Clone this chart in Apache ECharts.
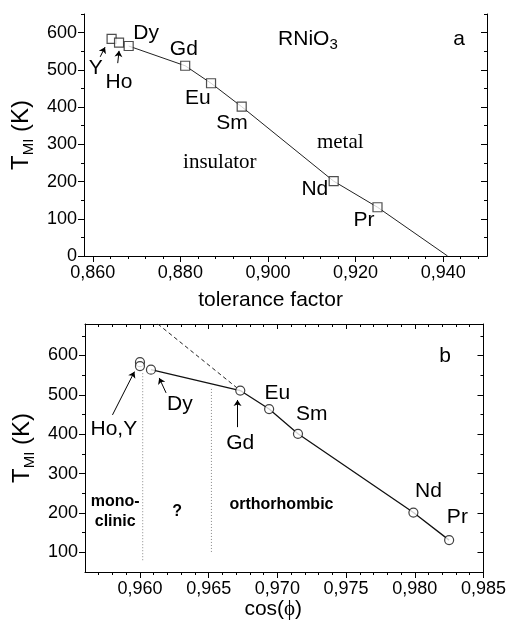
<!DOCTYPE html>
<html>
<head>
<meta charset="utf-8">
<script src="https://cdn.jsdelivr.net/npm/echarts@6/dist/echarts.min.js"></script>
<style>
  html, body { margin: 0; padding: 0; background: #fff; }
  #chart { width: 509px; height: 625px; }
</style>
</head>
<body>
<div id="chart"></div>
<script>
// RNiO3 metal-insulator transition temperatures
const elements = ['Y', 'Ho', 'Dy', 'Gd', 'Eu', 'Sm', 'Nd', 'Pr'];
const toleranceFactor = [0.8643, 0.8660, 0.8682, 0.8811, 0.8870, 0.8940, 0.9150, 0.9250];
const cosPhi = [0.9600, 0.9600, 0.9608, 0.9673, 0.9694, 0.9715, 0.9799, 0.9825];
const tMI = [583, 573, 564, 511, 464, 401, 201, 131];

// phase boundary in panel a runs on to T = 0
const boundaryEndA = [0.9410, 0];
// extrapolated orthorhombic trend in panel b (dashed, ends at Gd)
const dashStartB = [0.9613, 680];
// structural boundaries in panel b: cos(phi) and T span of the dotted lines
const structBoundaryCos = [0.9602, 0.9652];
const structBoundaryT = [[555, 79], [515, 97]];

// tick labels
const tolTickLabels = [0.86, 0.88, 0.90, 0.92, 0.94];
const cosTickLabels = [0.960, 0.965, 0.970, 0.975, 0.980, 0.985];
const tTickLabelsA = [0, 100, 200, 300, 400, 500, 600];
const tTickLabelsB = [100, 200, 300, 400, 500, 600];

const FONT = '"Liberation Sans", Arial, sans-serif';
const SERIF = '"Liberation Serif", "Times New Roman", serif';
const INK = '#000';

function range(start, stop, step) {
  const out = [];
  for (let v = start; v <= stop + step * 1e-6; v += step) out.push(+v.toFixed(6));
  return out;
}
function minorOf(all, major) {
  return all.filter(v => !major.some(m => Math.abs(m - v) < 1e-9));
}
const tolMinor = minorOf(range(0.860, 0.950, 0.004), tolTickLabels);
const cosMinor = minorOf(range(0.957, 0.985, 0.001), cosTickLabels);
const tMinorA = range(50, 650, 100);
const tMinorB = range(50, 650, 100).filter(v => v > 50);

const comma = d => v => v.toFixed(d).replace('.', ',');

function xAxesFor(grid, min, max, major, minor, fmt, name, namePad) {
  const base = { gridIndex: grid, type: 'value', min, max, splitLine: { show: false } };
  const line = { show: true, lineStyle: { color: INK, width: 1 } };
  return [
    Object.assign({}, base, {
      position: 'bottom', axisLine: line,
      axisTick: { show: true, inside: false, length: 6, customValues: major, lineStyle: { color: INK } },
      axisLabel: { show: true, customValues: major, formatter: fmt, margin: 8, color: INK, fontSize: 18, fontFamily: FONT },
      name, nameLocation: 'middle', nameGap: namePad.gap,
      nameTextStyle: { color: INK, fontSize: 21, fontFamily: FONT, padding: namePad.padding, rich: namePad.rich }
    }),
    Object.assign({}, base, {
      position: 'bottom', axisLine: { show: false },
      axisTick: { show: true, inside: false, length: 3, customValues: minor, lineStyle: { color: INK } },
      axisLabel: { show: false }
    }),
    Object.assign({}, base, {
      position: 'top', axisLine: line,
      axisTick: { show: true, inside: true, length: 5, customValues: major, lineStyle: { color: INK } },
      axisLabel: { show: false }
    }),
    Object.assign({}, base, {
      position: 'top', axisLine: { show: false },
      axisTick: { show: true, inside: true, length: 3, customValues: minor, lineStyle: { color: INK } },
      axisLabel: { show: false }
    })
  ];
}

function yAxesFor(grid, min, max, major, minor) {
  const base = { gridIndex: grid, type: 'value', min, max, splitLine: { show: false } };
  const line = { show: true, lineStyle: { color: INK, width: 1 } };
  return [
    Object.assign({}, base, {
      position: 'left', axisLine: line,
      axisTick: { show: true, inside: false, length: 6, customValues: major, lineStyle: { color: INK } },
      axisLabel: { show: true, customValues: major, margin: 7, color: INK, fontSize: 18, fontFamily: FONT },
      name: '{t|T}{s|MI}{t| (K)}', nameLocation: 'middle', nameGap: 48, nameRotate: 90,
      nameTextStyle: {
        color: INK, fontFamily: FONT,
        rich: {
          t: { fontSize: 24, fontFamily: FONT, color: INK },
          s: { fontSize: 15, fontFamily: FONT, color: INK, padding: [14, 0, 0, 0] }
        }
      }
    }),
    Object.assign({}, base, {
      position: 'left', axisLine: { show: false },
      axisTick: { show: true, inside: false, length: 3, customValues: minor, lineStyle: { color: INK } },
      axisLabel: { show: false }
    }),
    Object.assign({}, base, {
      position: 'right', axisLine: line,
      axisTick: { show: true, inside: true, length: 6, customValues: major, lineStyle: { color: INK } },
      axisLabel: { show: false }
    }),
    Object.assign({}, base, {
      position: 'right', axisLine: { show: false },
      axisTick: { show: true, inside: true, length: 3, customValues: minor, lineStyle: { color: INK } },
      axisLabel: { show: false }
    })
  ];
}

// text annotations placed in data coordinates
function textSeries(xi, yi, items) {
  return {
    type: 'scatter', xAxisIndex: xi, yAxisIndex: yi, silent: true, z: 5,
    symbolSize: 1, itemStyle: { color: '#fff', opacity: 0 },
    data: items.map(it => ({
      value: [it.x, it.y],
      label: Object.assign({
        show: true, position: 'inside', formatter: it.text, align: it.align || 'center',
        verticalAlign: 'middle', color: INK, opacity: 1, textBorderWidth: 0, textShadowBlur: 0,
        fontSize: 21, fontFamily: FONT
      }, it.style || {})
    }))
  };
}

function arrowSeries(xi, yi, segs) {
  return {
    type: 'lines', coordinateSystem: 'cartesian2d', xAxisIndex: xi, yAxisIndex: yi, silent: true,
    symbol: ['none', 'arrow'], symbolSize: 6,
    lineStyle: { color: INK, width: 1, opacity: 1 },
    data: segs.map(s => ({ coords: s }))
  };
}

const pairsA = toleranceFactor.map((x, i) => [x, tMI[i]]);
const pairsB = cosPhi.map((x, i) => [x, tMI[i]]);
// the connecting line starts at Dy (index 2)
const lineA = pairsA.slice(2).concat([boundaryEndA]);
const lineB = pairsB.slice(2);

const subRich = {
  n: { fontSize: 21, fontFamily: FONT, color: INK },
  s: { fontSize: 15, fontFamily: FONT, color: INK, padding: [12, 0, 0, 0] }
};
const boldStyle = { fontSize: 16, fontWeight: 'bold', fontFamily: FONT };

const option = {
  backgroundColor: '#fff',
  animation: false,
  grid: [
    { left: 84, top: 14, width: 403, height: 242 },
    { left: 85, top: 324, width: 400, height: 248 }
  ],
  xAxis: [].concat(
    xAxesFor(0, 0.858, 0.950, tolTickLabels, tolMinor, comma(3), 'tolerance factor',
      { gap: 34, padding: [0, 30, 0, 0] }),
    xAxesFor(1, 0.956, 0.985, cosTickLabels, cosMinor, comma(3), 'cos({p|ϕ})',
      { gap: 27, padding: [0, 22, 0, 0], rich: { p: { fontSize: 21, fontFamily: SERIF, color: INK } } })
  ),
  yAxis: [].concat(
    yAxesFor(0, 0, 650, tTickLabelsA, tMinorA),
    yAxesFor(1, 50, 680, tTickLabelsB, tMinorB)
  ),
  series: [
    // panel a
    {
      type: 'line', xAxisIndex: 0, yAxisIndex: 0, data: lineA, showSymbol: false, silent: true,
      lineStyle: { color: '#222', width: 1 }
    },
    {
      type: 'scatter', xAxisIndex: 0, yAxisIndex: 0, data: pairsA, symbol: 'rect', symbolSize: 9,
      itemStyle: { color: '#fff', borderColor: '#222', borderWidth: 1.2 }, z: 4
    },
    arrowSeries(0, 0, [
      [[0.8617, 535], [0.8628, 561]],
      [[0.8657, 518], [0.8660, 551]]
    ]),
    textSeries(0, 0, [
      { x: 0.8722, y: 599, text: 'Dy' },
      { x: 0.8808, y: 556, text: 'Gd' },
      { x: 0.8607, y: 505, text: 'Y' },
      { x: 0.8660, y: 467, text: 'Ho' },
      { x: 0.8840, y: 424, text: 'Eu' },
      { x: 0.8918, y: 357, text: 'Sm' },
      { x: 0.9107, y: 180, text: 'Nd' },
      { x: 0.9219, y: 97, text: 'Pr' },
      { x: 0.9023, y: 583, text: '{n|RNiO}{s|3}', align: 'left', style: { rich: subRich } },
      { x: 0.9436, y: 583, text: 'a' },
      { x: 0.9165, y: 304, text: 'metal', style: { fontFamily: SERIF } },
      { x: 0.8890, y: 252, text: 'insulator', style: { fontFamily: SERIF } }
    ]),
    // panel b
    {
      type: 'line', xAxisIndex: 4, yAxisIndex: 4, data: [dashStartB, pairsB[3]], showSymbol: false, silent: true,
      lineStyle: { color: '#222', width: 1, type: [4, 3] }
    },
    {
      type: 'line', xAxisIndex: 4, yAxisIndex: 4, showSymbol: false, silent: true,
      data: [[structBoundaryCos[0], structBoundaryT[0][0]], [structBoundaryCos[0], structBoundaryT[0][1]]],
      lineStyle: { color: '#888', width: 1, type: [1, 2] }
    },
    {
      type: 'line', xAxisIndex: 4, yAxisIndex: 4, showSymbol: false, silent: true,
      data: [[structBoundaryCos[1], structBoundaryT[1][0]], [structBoundaryCos[1], structBoundaryT[1][1]]],
      lineStyle: { color: '#888', width: 1, type: [1, 2] }
    },
    {
      type: 'line', xAxisIndex: 4, yAxisIndex: 4, data: lineB, showSymbol: false, silent: true,
      lineStyle: { color: '#111', width: 1.3 }
    },
    {
      type: 'scatter', xAxisIndex: 4, yAxisIndex: 4, data: pairsB, symbol: 'circle', symbolSize: 9,
      itemStyle: { color: '#fff', borderColor: '#111', borderWidth: 1.2 }, z: 4
    },
    arrowSeries(4, 4, [
      [[0.9580, 449], [0.9596, 559]],
      [[0.9619, 505], [0.9614, 543]],
      [[0.9671, 418], [0.9671, 487]]
    ]),
    textSeries(4, 4, [
      { x: 0.9581, y: 413, text: 'Ho,Y' },
      { x: 0.9629, y: 477, text: 'Dy' },
      { x: 0.9673, y: 378, text: 'Gd' },
      { x: 0.9700, y: 505, text: 'Eu' },
      { x: 0.9725, y: 451, text: 'Sm' },
      { x: 0.9810, y: 254, text: 'Nd' },
      { x: 0.9831, y: 190, text: 'Pr' },
      { x: 0.9822, y: 599, text: 'b' },
      { x: 0.9582, y: 230, text: 'mono-', style: boldStyle },
      { x: 0.9582, y: 178, text: 'clinic', style: boldStyle },
      { x: 0.9627, y: 203, text: '?', style: boldStyle },
      { x: 0.9703, y: 220, text: 'orthorhombic', style: boldStyle }
    ])
  ]
};

const chart = echarts.init(document.getElementById('chart'), null, { renderer: 'canvas' });
chart.setOption(option);
</script>
</body>
</html>
